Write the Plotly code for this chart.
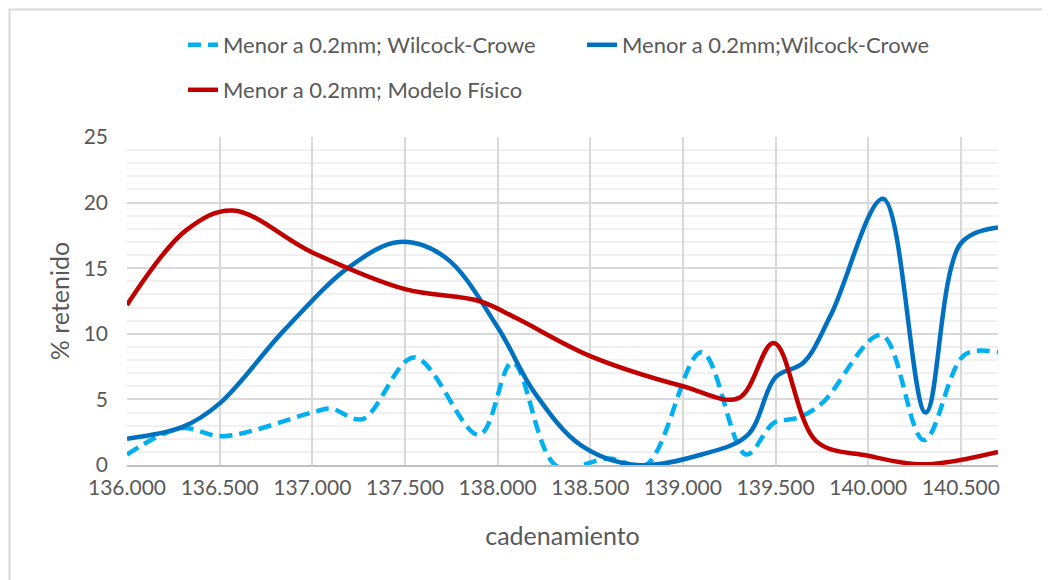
import plotly.graph_objects as go

# cadenamiento / % retenido
x_wc_dash = [136.0, 136.29, 136.52, 137.0, 137.1, 137.27, 137.55, 137.9, 138.08, 138.32,
             138.6, 138.8, 139.1, 139.34, 139.49, 139.62, 139.75, 140.07, 140.3, 140.52, 140.7]
y_wc_dash = [0.8, 2.8, 2.2, 4.0, 4.3, 3.5, 8.2, 2.3, 7.8, -0.1,
             0.5, 0.0, 8.6, 0.8, 3.2, 3.6, 4.7, 9.9, 1.9, 8.4, 8.6]

x_wc_solid = [136.0, 136.3, 136.5, 136.85, 137.2, 137.47, 137.72, 138.0, 138.2, 138.45,
              138.75, 139.1, 139.35, 139.5, 139.65, 139.8, 140.08, 140.31, 140.5, 140.7]
y_wc_solid = [2.0, 2.9, 4.7, 10.3, 15.1, 17.0, 15.8, 10.5, 5.5, 1.5,
              0.0, 0.8, 2.3, 6.7, 7.8, 11.5, 20.3, 4.0, 16.9, 18.1]

x_fisico = [136.0, 136.32, 136.57, 137.0, 137.5, 137.9, 138.1, 138.5, 139.0, 139.3,
            139.49, 139.72, 140.0, 140.3, 140.7]
y_fisico = [12.2, 17.9, 19.4, 16.2, 13.4, 12.5, 11.2, 8.3, 6.0, 5.1,
            9.3, 1.8, 0.7, 0.05, 1.0]

names = ["Menor a 0.2mm; Wilcock-Crowe", "Menor a 0.2mm;Wilcock-Crowe",
         "Menor a 0.2mm; Modelo Físico"]

FONT = "Lato"
GREY = "#595959"

fig = go.Figure()
fig.add_trace(go.Scatter(x=x_wc_dash, y=y_wc_dash, name=names[0], mode="lines",
                         line=dict(color="#00B0F0", width=4.5, dash="13px,7px",
                                   shape="spline", smoothing=1.0),
                         legend="legend", showlegend=True))
fig.add_trace(go.Scatter(x=x_wc_solid, y=y_wc_solid, name=names[1], mode="lines",
                         line=dict(color="#0070C0", width=4.5, shape="spline", smoothing=1.0),
                         legend="legend2", showlegend=True))
fig.add_trace(go.Scatter(x=x_fisico, y=y_fisico, name=names[2], mode="lines",
                         line=dict(color="#C00000", width=4.5, shape="spline", smoothing=1.0),
                         legend="legend3", showlegend=True))

# plot area on the page: 127..998 px wide, 137..465 px tall (page body has 8px margin)
W, H, L, B = 871, 328, 127, 465
def px(xp):
    return (xp - L) / W
def py(yp):
    return (B - yp) / H

leg = dict(orientation="h", xanchor="left", yanchor="middle",
           font=dict(family=FONT, size=22, color=GREY), bgcolor="rgba(0,0,0,0)")
fig.update_layout(
    showlegend=True,
    legend=dict(leg, x=px(183), y=py(45)),
    legend2=dict(leg, x=px(582), y=py(45)),
    legend3=dict(leg, x=px(183), y=py(90)),
)

fig.update_layout(
    width=1050, height=580,
    margin=dict(l=119, r=60, t=129, b=123, autoexpand=False),
    paper_bgcolor="white", plot_bgcolor="white",
    font=dict(family=FONT, size=21, color=GREY),
    xaxis=dict(range=[136, 140.7], tick0=136, dtick=0.5, tickformat=".3f",
               showgrid=True, gridcolor="#d9d9d9", gridwidth=1.5,
               showline=True, linecolor="#bfbfbf", linewidth=1.5,
               zeroline=False, ticks="", ticklabelstandoff=3,
               title=dict(text="cadenamiento", standoff=30,
                          font=dict(family=FONT, size=25, color=GREY))),
    yaxis=dict(range=[0, 25], dtick=5, showgrid=True, gridcolor="#d9d9d9", gridwidth=1.5,
               minor=dict(dtick=1, showgrid=True, gridcolor="#f0f0f0", gridwidth=1.5),
               zeroline=False, showline=False, ticks="", ticklabelstandoff=18,
               title=dict(text="% retenido", standoff=6,
                          font=dict(family=FONT, size=25, color=GREY))),
    shapes=[dict(type="rect", xref="paper", yref="paper",
                 x0=px(9.5), x1=px(1075), y0=py(640), y1=py(9.5),
                 line=dict(color="#d9d9d9", width=2), layer="below")],
)

fig.write_html("out.html")
